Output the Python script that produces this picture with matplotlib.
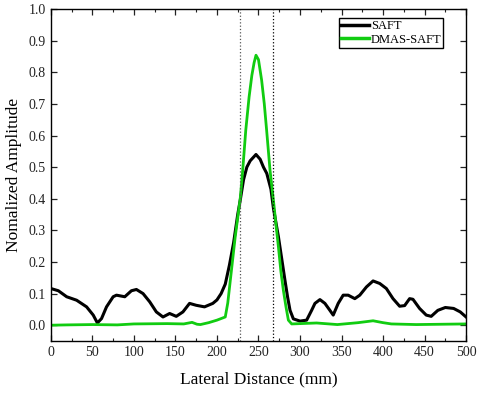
import matplotlib
matplotlib.use("Agg")
import matplotlib.pyplot as plt
from matplotlib.ticker import MultipleLocator

plt.rcParams["font.family"] = ["Liberation Serif", "DejaVu Serif"]

# SAFT curve (black)
saft_x = [0, 9, 19, 31, 43, 51, 56, 61, 67, 75, 79, 89, 97, 103, 111, 119, 127, 135,
          143, 151, 159, 167, 175, 185, 195, 200, 205, 210, 215, 220, 225, 228, 232,
          236, 240, 247, 252, 256, 260, 265, 268, 274, 278, 282, 285, 288, 292, 300,
          308, 314, 318, 324, 330, 336, 340, 346, 352, 358, 366, 372, 380, 388, 396,
          404, 412, 420, 426, 432, 436, 444, 452, 458, 466, 475, 485, 493, 500]
saft_y = [0.116, 0.109, 0.090, 0.079, 0.058, 0.032, 0.007, 0.021, 0.058, 0.090, 0.095,
          0.090, 0.109, 0.113, 0.100, 0.074, 0.042, 0.026, 0.037, 0.028, 0.042, 0.069,
          0.063, 0.058, 0.069, 0.080, 0.100, 0.130, 0.190, 0.260, 0.350, 0.395, 0.460,
          0.500, 0.520, 0.540, 0.525, 0.500, 0.480, 0.430, 0.370, 0.280, 0.210, 0.140,
          0.090, 0.047, 0.020, 0.013, 0.016, 0.047, 0.069, 0.081, 0.069, 0.047, 0.032,
          0.069, 0.095, 0.095, 0.084, 0.095, 0.121, 0.140, 0.132, 0.116, 0.084, 0.060,
          0.062, 0.084, 0.082, 0.053, 0.032, 0.028, 0.047, 0.056, 0.053, 0.042, 0.026]

# DMAS-SAFT curve (green)
dmas_x = [0, 20, 50, 80, 100, 140, 160, 170, 176, 180, 190, 200, 210, 213, 216, 219,
          222, 225, 228, 231, 234.7, 238.7, 242, 244.7, 247, 250, 253.8, 257, 259.8,
          263.9, 268, 271, 274, 277, 280, 283, 286, 290, 300, 320, 345, 370, 388, 400,
          410, 440, 470, 500]
dmas_y = [0.0, 0.001, 0.002, 0.001, 0.004, 0.005, 0.004, 0.009, 0.003, 0.002, 0.008,
          0.016, 0.026, 0.07, 0.14, 0.21, 0.28, 0.34, 0.40, 0.49, 0.617, 0.722, 0.79,
          0.83, 0.854, 0.84, 0.775, 0.70, 0.617, 0.49, 0.395, 0.32, 0.248, 0.17, 0.11,
          0.06, 0.016, 0.004, 0.005, 0.007, 0.002, 0.008, 0.014, 0.008, 0.004, 0.002,
          0.003, 0.004]

marker_x = [228, 268]

fig = plt.figure(figsize=(4.8, 3.94), dpi=100)
ax = fig.add_axes([0.106, 0.1345, 0.865, 0.8425])

ax.plot(saft_x, saft_y, color="black", lw=2.2, label="SAFT")
ax.plot(dmas_x, dmas_y, color="#11cc11", lw=2.0, label="DMAS-SAFT")
ax.axvline(marker_x[0], color="#555555", lw=0.9, ls=":")
ax.axvline(marker_x[1], color="black", lw=0.9, ls=":")

ax.set_xlim(0, 500)
ax.set_ylim(-0.05, 1.0)
ax.xaxis.set_major_locator(MultipleLocator(50))
ax.xaxis.set_minor_locator(MultipleLocator(25))
ax.yaxis.set_major_locator(MultipleLocator(0.1))
ax.yaxis.set_major_formatter(plt.FuncFormatter(lambda v, p: f"{v:.1f}"))
ax.tick_params(which="both", direction="in", top=True, right=True, labelsize=10,
               colors="#222222", labelcolor="#222222")
ax.tick_params(which="major", length=4, width=0.9)
ax.tick_params(which="minor", length=2.5, width=0.8)
for s in ax.spines.values():
    s.set_linewidth(1.0)

ax.set_xlabel("Lateral Distance (mm)", fontsize=12.5, labelpad=9)
ax.set_ylabel("Nomalized Amplitude", fontsize=12.5, labelpad=5)

leg = ax.legend(loc="upper right", bbox_to_anchor=(0.945, 0.973), fontsize=9,
                frameon=True, fancybox=False, edgecolor="black", framealpha=1,
                handlelength=2.3, handletextpad=0.1, borderpad=0.15,
                labelspacing=0.15, borderaxespad=0.0)
leg.get_frame().set_linewidth(1.0)
for line in leg.get_lines():
    line.set_linewidth(2.5)

fig.savefig("out.png", dpi=100)
